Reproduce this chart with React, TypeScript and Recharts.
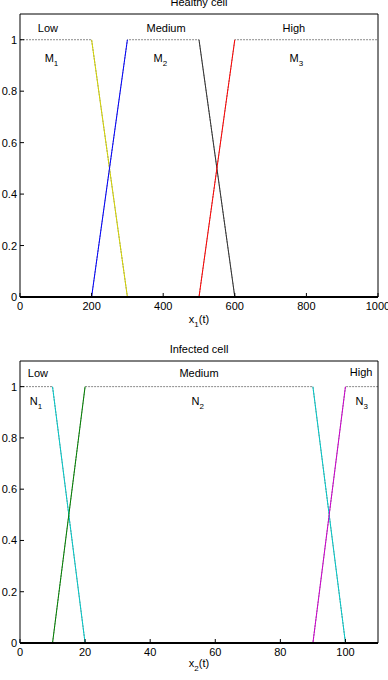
import { LineChart, Line, XAxis, YAxis, ReferenceDot } from "recharts";

const FONT = "'Liberation Sans', Arial, Helvetica, sans-serif";

// Healthy cell: membership functions over x1(t)
const healthyTicks = [0, 200, 400, 600, 800, 1000];
const m1 = [
  { x: 0, y: 1 },
  { x: 200, y: 1 },
  { x: 300, y: 0 },
  { x: 1000, y: 0 },
];
const m2 = [
  { x: 0, y: 0 },
  { x: 200, y: 0 },
  { x: 300, y: 1 },
  { x: 500, y: 1 },
  { x: 600, y: 0 },
  { x: 1000, y: 0 },
];
const m3 = [
  { x: 0, y: 0 },
  { x: 500, y: 0 },
  { x: 600, y: 1 },
  { x: 1000, y: 1 },
];

// Infected cell: membership functions over x2(t)
const infectedTicks = [0, 20, 40, 60, 80, 100];
const n1 = [
  { x: 0, y: 1 },
  { x: 10, y: 1 },
  { x: 20, y: 0 },
  { x: 110, y: 0 },
];
const n2 = [
  { x: 0, y: 0 },
  { x: 10, y: 0 },
  { x: 20, y: 1 },
  { x: 90, y: 1 },
  { x: 100, y: 0 },
  { x: 110, y: 0 },
];
const n3 = [
  { x: 0, y: 0 },
  { x: 90, y: 0 },
  { x: 100, y: 1 },
  { x: 110, y: 1 },
];

const yTicks = [0, 0.2, 0.4, 0.6, 0.8, 1];
const setNames = ["Low", "Medium", "High"];

type Pt = { x: number; y: number };
type Edge = { data: Pt[]; color: string };
type Note = { x: number; y: number; main: string; sub?: string };

const healthyEdges: Edge[] = [
  { data: m1.slice(1, 3), color: "#d4d400" },
  { data: m2.slice(1, 3), color: "#0000ff" },
  { data: m2.slice(3, 5), color: "#333333" },
  { data: m3.slice(1, 3), color: "#ff0000" },
];
const infectedEdges: Edge[] = [
  { data: n1.slice(1, 3), color: "#00c8c8" },
  { data: n2.slice(1, 3), color: "#008000" },
  { data: n2.slice(3, 5), color: "#00c8c8" },
  { data: n3.slice(1, 3), color: "#cc00cc" },
];

const healthyNotes: Note[] = [
  { x: 78, y: 1.03, main: setNames[0] },
  { x: 408, y: 1.03, main: setNames[1] },
  { x: 765, y: 1.03, main: setNames[2] },
  { x: 88, y: 0.912, main: "M", sub: "1" },
  { x: 392, y: 0.912, main: "M", sub: "2" },
  { x: 772, y: 0.912, main: "M", sub: "3" },
];
const infectedNotes: Note[] = [
  { x: 5.5, y: 1.036, main: setNames[0] },
  { x: 55, y: 1.036, main: setNames[1] },
  { x: 104.8, y: 1.043, main: setNames[2] },
  { x: 4.9, y: 0.93, main: "N", sub: "1" },
  { x: 54.6, y: 0.93, main: "N", sub: "2" },
  { x: 105, y: 0.93, main: "N", sub: "3" },
];

const TICK = 4;

function BottomTick({ x, y, payload }: any) {
  return (
    <g>
      <line x1={x} y1={y} x2={x} y2={y - TICK} stroke="#000" />
      <text x={x} y={y + 13} textAnchor="middle" fontSize={11} fontFamily={FONT} fill="#000">
        {payload.value}
      </text>
    </g>
  );
}

function TopTick({ x, y }: any) {
  return <line x1={x} y1={y} x2={x} y2={y + TICK} stroke="#000" />;
}

function LeftTick({ x, y, payload }: any) {
  return (
    <g>
      <line x1={x} y1={y} x2={x + TICK} y2={y} stroke="#000" />
      <text x={x - 3} y={y + 4} textAnchor="end" fontSize={11} fontFamily={FONT} fill="#000">
        {String(payload.value)}
      </text>
    </g>
  );
}

function RightTick({ x, y }: any) {
  return <line x1={x} y1={y} x2={x - TICK} y2={y} stroke="#000" />;
}

function NoteText({ cx, cy, main, sub }: any) {
  return (
    <text x={cx} y={cy} textAnchor="middle" fontSize={11} fontFamily={FONT} fill="#000">
      <tspan>{main}</tspan>
      {sub && (
        <tspan dy={4} fontSize={8}>
          {sub}
        </tspan>
      )}
    </text>
  );
}

function MembershipPlot({
  funcs,
  edges,
  notes,
  ticks,
  xMax,
  title,
  axisName,
  axisSub,
  topH,
  bottomH,
  labelGap,
}: {
  funcs: Pt[][];
  edges: Edge[];
  notes: Note[];
  ticks: number[];
  xMax: number;
  title: string;
  axisName: string;
  axisSub: string;
  topH: number;
  bottomH: number;
  labelGap: number;
}) {
  const titleLabel = ({ viewBox }: any) => (
    <text
      x={viewBox.x + viewBox.width / 2}
      y={viewBox.y + viewBox.height - 8.5}
      textAnchor="middle"
      fontSize={11}
      fontFamily={FONT}
      fill="#000"
    >
      {title}
    </text>
  );
  const axisLabel = ({ viewBox }: any) => (
    <text
      x={viewBox.x + viewBox.width / 2}
      y={viewBox.y + labelGap}
      textAnchor="middle"
      fontSize={11}
      fontFamily={FONT}
      fill="#000"
    >
      <tspan>{axisName}</tspan>
      <tspan dy={4} fontSize={8}>
        {axisSub}
      </tspan>
      <tspan dy={-4}>(t)</tspan>
    </text>
  );

  return (
    <LineChart width={388} height={340} margin={{ top: 0, right: 0, bottom: 0, left: 0 }}>
      <XAxis
        xAxisId="b"
        type="number"
        dataKey="x"
        domain={[0, xMax]}
        ticks={ticks}
        interval={0}
        height={bottomH}
        tickSize={0}
        tickMargin={0}
        tickLine={false}
        axisLine={{ stroke: "#000", strokeWidth: 2 }}
        tick={<BottomTick />}
        label={axisLabel}
      />
      <XAxis
        xAxisId="t"
        orientation="top"
        type="number"
        dataKey="x"
        domain={[0, xMax]}
        ticks={ticks}
        interval={0}
        height={topH}
        tickSize={0}
        tickMargin={0}
        tickLine={false}
        axisLine={{ stroke: "#000" }}
        tick={<TopTick />}
        label={titleLabel}
      />
      <YAxis
        yAxisId="l"
        type="number"
        domain={[0, 1.1]}
        ticks={yTicks}
        interval={0}
        width={20}
        tickSize={0}
        tickMargin={0}
        tickLine={false}
        axisLine={{ stroke: "#000" }}
        tick={<LeftTick />}
      />
      <YAxis
        yAxisId="r"
        orientation="right"
        type="number"
        domain={[0, 1.1]}
        ticks={yTicks}
        interval={0}
        width={10}
        tickSize={0}
        tickMargin={0}
        tickLine={false}
        axisLine={{ stroke: "#000" }}
        tick={<RightTick />}
      />
      {funcs.map((f, i) => (
        <Line
          key={"f" + i}
          xAxisId="b"
          yAxisId="l"
          data={f}
          dataKey="y"
          type="linear"
          stroke="#8a8a8a"
          strokeWidth={1}
          strokeDasharray="2 1"
          dot={false}
          activeDot={false}
          isAnimationActive={false}
        />
      ))}
      {edges.map((e, i) => (
        <Line
          key={"e" + i}
          xAxisId="b"
          yAxisId="l"
          data={e.data}
          dataKey="y"
          type="linear"
          stroke={e.color}
          strokeWidth={1}
          dot={false}
          activeDot={false}
          isAnimationActive={false}
        />
      ))}
      {notes.map((n, i) => (
        <ReferenceDot
          key={"n" + i}
          xAxisId="b"
          yAxisId="l"
          x={n.x}
          y={n.y}
          r={0}
          ifOverflow="visible"
          shape={(p: any) => <NoteText cx={p.cx} cy={p.cy} main={n.main} sub={n.sub} />}
        />
      ))}
    </LineChart>
  );
}

export default function App() {
  return (
    <div style={{ position: "absolute", left: 0, top: 0, width: 388, height: 680, background: "#fff" }}>
      <MembershipPlot
        funcs={[m1, m2, m3]}
        edges={healthyEdges}
        notes={healthyNotes}
        ticks={healthyTicks}
        xMax={1000}
        title="Healthy cell"
        axisName="x"
        axisSub="1"
        topH={14}
        bottomH={43}
        labelGap={26}
      />
      <MembershipPlot
        funcs={[n1, n2, n3]}
        edges={infectedEdges}
        notes={infectedNotes}
        ticks={infectedTicks}
        xMax={110}
        title="Infected cell"
        axisName="x"
        axisSub="2"
        topH={21}
        bottomH={37}
        labelGap={24}
      />
    </div>
  );
}
